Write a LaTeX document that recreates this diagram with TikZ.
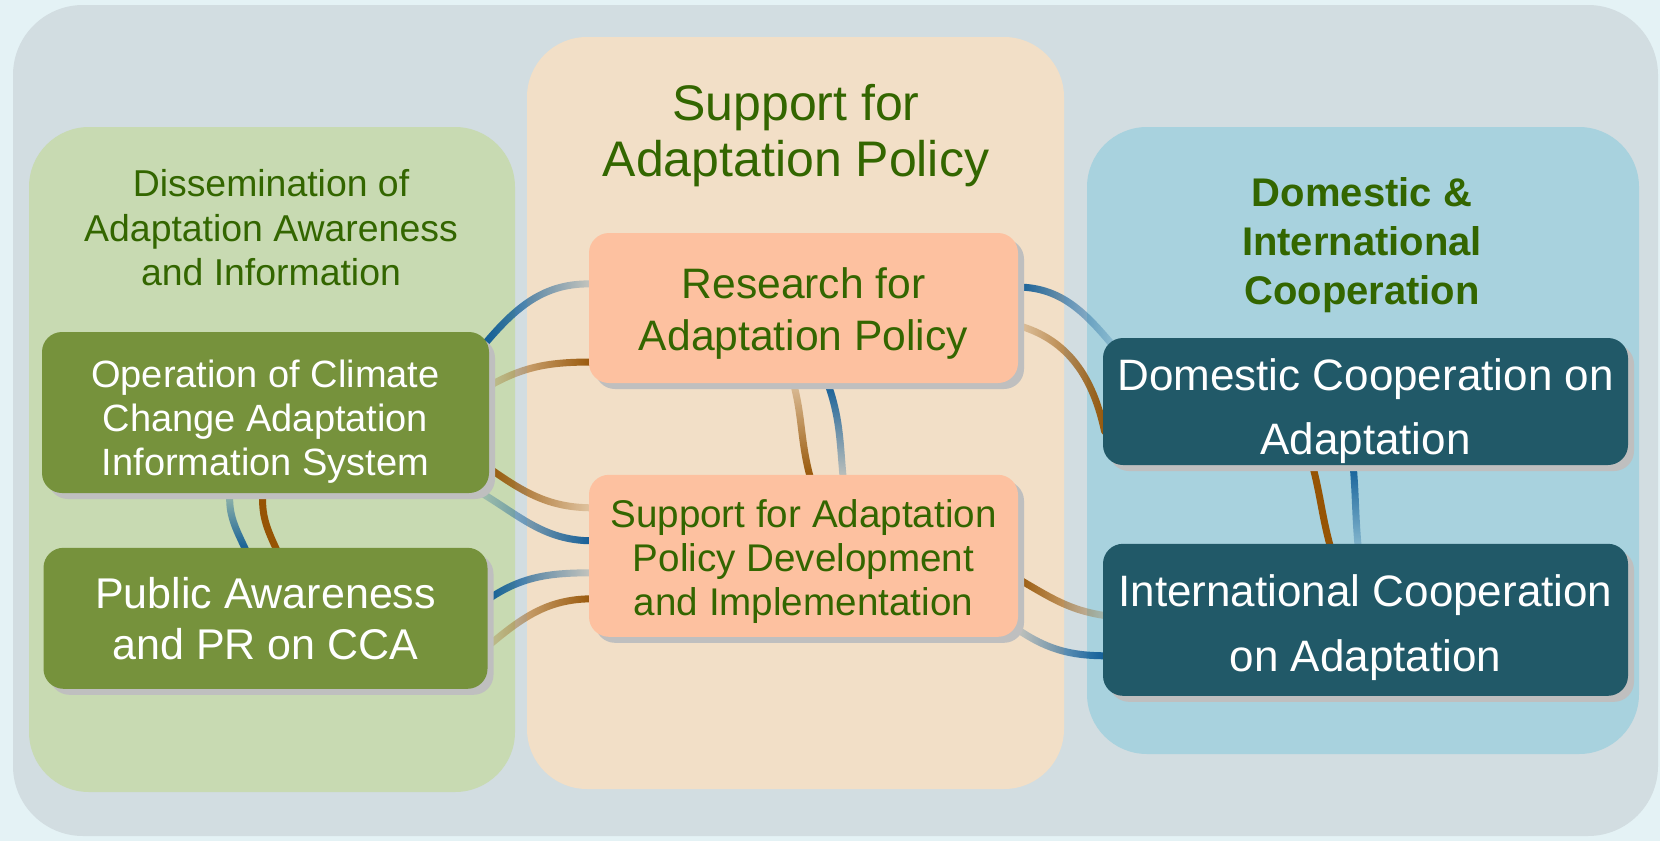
\documentclass[tikz,border=0pt]{standalone}
\usepackage{fontspec}
\setmainfont{Liberation Sans}
\usetikzlibrary{calc,positioning,shadows,backgrounds,fadings}

\definecolor{pagebg}{RGB}{228,242,245}
\definecolor{panelbg}{RGB}{210,221,225}
\definecolor{greencol}{RGB}{200,218,178}
\definecolor{peachcol}{RGB}{242,223,199}
\definecolor{bluecol}{RGB}{168,210,222}
\definecolor{greenbox}{RGB}{118,146,60}
\definecolor{peachbox}{RGB}{253,193,160}
\definecolor{bluebox}{RGB}{33,89,104}
\definecolor{headgreen}{RGB}{51,102,0}
\definecolor{arcblue}{RGB}{12,90,150}
\definecolor{arcbrown}{RGB}{150,84,4}

% pushes the first line of a box down
\newcommand{\dropby}[1]{\rule{0pt}{#1}}

% ends of the rings fade out
\tikzfading[name=fadeR, left color=transparent!0, middle color=transparent!0, right color=transparent!85]
\tikzfading[name=fadeL, left color=transparent!85, middle color=transparent!0, right color=transparent!0]
\tikzfading[name=fadeD, top color=transparent!0, middle color=transparent!0, bottom color=transparent!80]
\tikzfading[name=fadeU, top color=transparent!80, middle color=transparent!0, bottom color=transparent!0]

\begin{document}
\begin{tikzpicture}[
            x=0.5pt, y=0.5pt,
            column/.style={rounded corners=30pt, inner sep=0pt},
            box/.style={rounded corners=10pt, inner sep=0pt, align=center,
              drop shadow={shadow xshift=3pt, shadow yshift=-3pt, fill=black!25, opacity=1}},
            gbox/.style={box, fill=greenbox, text=white},
            pbox/.style={box, fill=peachbox, text=headgreen},
            bbox/.style={box, fill=bluebox, text=white},
            heading/.style={align=center, text=headgreen},
            ringline/.style={line width=3.5pt, line cap=round},
            blueline/.style={ringline, draw=arcblue},
            brownline/.style={ringline, draw=arcbrown}
          ]
          \useasboundingbox (0,0) rectangle (1660,-841);

          % headings
          \node[heading, font=\fontsize{18.7}{22.2}\selectfont] (hdL) at (271,-228) {Dissemination of\\Adaptation Awareness\\and Information};
          \node[heading, font=\fontsize{25}{28}\selectfont] (hdM) at (796,-136) {Support for\\Adaptation Policy};
          \node[heading, font=\fontsize{20}{24.5}\selectfont\bfseries] (hdR) at (1362,-245) {Domestic \&\\International\\Cooperation};

          % boxes
          \node[gbox, minimum width=223.5pt, minimum height=80.5pt, font=\fontsize{19}{22}\selectfont] (ops) at (265.5,-412.5) {\dropby{23.4pt}Operation of Climate\\Change Adaptation\\Information System};
          \node[gbox, below=27pt of ops, minimum width=222pt, minimum height=70.5pt, font=\fontsize{21.5}{25.5}\selectfont] (pr) {Public Awareness\\and PR on CCA};
          \node[pbox, minimum width=214.5pt, minimum height=75pt, font=\fontsize{21.3}{26}\selectfont] (res) at (803.5,-308) {\dropby{20.9pt}Research for\\Adaptation Policy};
          \node[pbox, below=45.5pt of res, minimum width=214.5pt, minimum height=81pt, font=\fontsize{19.3}{22}\selectfont] (dev) {\dropby{19.4pt}Support for Adaptation\\Policy Development\\and Implementation};
          \node[bbox, minimum width=262.5pt, minimum height=63.5pt, font=\fontsize{22}{32}\selectfont] (dom) at (1365.5,-401.5) {\dropby{25.5pt}Domestic Cooperation on\\Adaptation};
          \node[bbox, below=39pt of dom, minimum width=262.5pt, minimum height=76pt, font=\fontsize{22}{32.5}\selectfont] (intl) {\dropby{24pt}International Cooperation\\on Adaptation};

          \begin{scope}[on background layer]
            \fill[pagebg] (0,0) rectangle (1660,-841);
            \fill[panelbg, rounded corners=35pt] (13,-5) rectangle (1658,-836);
            \node[column, fill=greencol, minimum width=243pt, minimum height=332.5pt] (colL) at (272,-459.5) {};
            \node[column, fill=peachcol, minimum width=268.5pt, minimum height=376pt] (colM) at (795.5,-413) {};
            \node[column, fill=bluecol, minimum width=276pt, minimum height=313.5pt] (colR) at (1363,-440.5) {};

            % rings between the boxes
            \draw[blueline, path fading=fadeR] ($(ops.north east)+(-6,-14)$) to[out=50,in=178] ($(res.west)+(4,24)$);
            \draw[brownline, path fading=fadeL] ($(ops.east)+(-2,25.5)$) to[out=30,in=180] ($(res.west)+(4,-54)$);
            \draw[brownline, path fading=fadeR] ($(ops.east)+(-2,-54.5)$) to[out=-35,in=180] ($(dev.west)+(4,48)$);
            \draw[blueline, path fading=fadeL] ($(ops.south east)+(-14,4)$) to[out=-30,in=180] ($(dev.west)+(4,15)$);
            \draw[blueline, path fading=fadeR] ($(pr.east)+(-2,17.5)$) to[out=35,in=180] ($(dev.west)+(4,-17)$);
            \draw[brownline, path fading=fadeL] ($(pr.east)+(-2,-29.5)$) to[out=40,in=180] ($(dev.west)+(4,-43)$);
            \draw[blueline, path fading=fadeU] ($(ops.south)+(-35.5,2)$) to[out=-95,in=115] ($(pr.north)+(-20,-2)$);
            \draw[brownline] ($(ops.south)+(-2.5,2)$) to[out=-95,in=115] ($(pr.north)+(11,-2)$);

            \draw[brownline, path fading=fadeU] ($(res.south)+(-10.5,2)$) to[out=-75,in=105] ($(dev.north)+(6.5,-2)$);
            \draw[blueline, path fading=fadeD] ($(res.south)+(23.5,2)$) to[out=-70,in=95] ($(dev.north)+(39.5,-2)$);

            \draw[blueline, path fading=fadeR] ($(res.east)+(-2,21)$) to[out=0,in=130] ($(dom.north west)+(12,-10)$);
            \draw[brownline, path fading=fadeL] ($(res.east)+(-2,-17)$) to[out=-15,in=102] ($(dom.west)+(2,-30)$);
            \draw[brownline, path fading=fadeR] ($(dev.east)+(-2,-22)$) to[out=-30,in=172] ($(intl.west)+(4,4)$);
            \draw[blueline, path fading=fadeL] ($(dev.south east)+(-4,10)$) to[out=-35,in=180] ($(intl.west)+(4,-36)$);
            \draw[brownline] ($(dom.south)+(-53.5,2)$) to[out=-75,in=105] ($(intl.north)+(-35.5,-2)$);
            \draw[blueline, path fading=fadeD] ($(dom.south)+(-12.5,2)$) to[out=-85,in=95] ($(intl.north)+(-7.5,-2)$);
          \end{scope}
        \end{tikzpicture}
\end{document}
